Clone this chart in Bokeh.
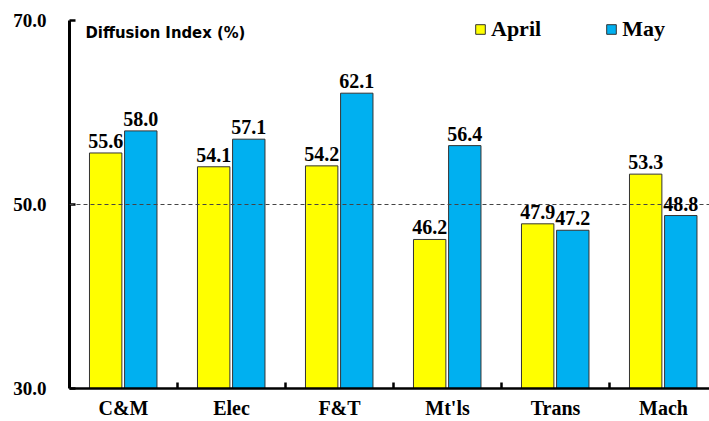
from bokeh.plotting import figure
from bokeh.models import (ColumnDataSource, Range1d, FixedTicker, Span, Label, LabelSet,
                          Legend, LegendItem, PrintfTickFormatter)
from bokeh.core.properties import value
from bokeh.embed import file_html
from bokeh.resources import INLINE

categories = ["C&M", "Elec", "F&T", "Mt'ls", "Trans", "Mach"]
april = [55.6, 54.1, 54.2, 46.2, 47.9, 53.3]
may = [58.0, 57.1, 62.1, 56.4, 47.2, 48.8]
y_ticks = [30, 50, 70]
threshold = 50.0
title_text = "Chart 2: Performance by Industry"
y_title = "Diffusion Index (%)"
series_names = ["April", "May"]

SERIF = "'Liberation Serif', 'Times New Roman', serif"
NARROW = "'Liberation Sans Narrow', 'Arial Narrow', 'DejaVu Sans Condensed', sans-serif"

FRAME_W = 640          # frame width in px
CAT_PX = 108           # px per category
X_END = FRAME_W / CAT_PX

idx = list(range(len(categories)))
src_a = ColumnDataSource(dict(x=[i + 0.335 for i in idx], top=april,
                              lab=["%.1f" % v for v in april]))
src_m = ColumnDataSource(dict(x=[i + 0.66 for i in idx], top=may,
                              lab=["%.1f" % v for v in may]))

p = figure(width=709, height=421, output_backend="svg", toolbar_location=None,
           x_range=Range1d(0, X_END), y_range=Range1d(30, 70),
           min_border_left=69, min_border_right=0, min_border_top=20, min_border_bottom=30)
p.outline_line_color = None
p.grid.visible = False
p.background_fill_color = "white"
p.border_fill_color = "white"

ra = p.vbar(x="x", top="top", bottom=30, width=0.3, source=src_a,
            fill_color="#FFFF00", line_color="#333333", line_width=1)
rm = p.vbar(x="x", top="top", bottom=30, width=0.3, source=src_m,
            fill_color="#00B0F0", line_color="#333333", line_width=1)

p.add_layout(Span(location=threshold, dimension="width", line_color="#444444",
                  line_width=1, line_dash="4 3"))

# y axis
ya = p.yaxis[0]
ya.ticker = FixedTicker(ticks=y_ticks)
ya.formatter = PrintfTickFormatter(format="%.1f")
ya.axis_line_width = 3
ya.axis_line_color = "black"
ya.major_tick_in = 6
ya.major_tick_out = 0
ya.major_tick_line_width = 2.5
ya.minor_tick_line_color = None
ya.major_label_standoff = 23
ya.major_label_text_font = SERIF
ya.major_label_text_font_style = "bold"
ya.major_label_text_font_size = "19px"
ya.major_label_text_color = "black"

# x axis: category names at centres, separator ticks between groups
centers = [i + 0.5 for i in idx]
xa = p.xaxis[0]
xa.ticker = FixedTicker(ticks=centers, minor_ticks=[i for i in idx[1:]])
xa.major_label_overrides = {c: name for c, name in zip(centers, categories)}
xa.axis_line_width = 2.5
xa.axis_line_color = "black"
xa.major_tick_line_color = None
xa.major_tick_in = 0
xa.major_tick_out = 0
xa.minor_tick_in = 6
xa.minor_tick_out = 0
xa.minor_tick_line_width = 2.5
xa.minor_tick_line_color = "black"
xa.major_label_standoff = 8
xa.major_label_text_font = SERIF
xa.major_label_text_font_style = "bold"
xa.major_label_text_font_size = "20px"
xa.major_label_text_color = "black"

# value labels
for s in (src_a, src_m):
    p.add_layout(LabelSet(x="x", y="top", text="lab", source=s, y_offset=5,
                          text_align="center", text_baseline="alphabetic",
                          text_font=value(SERIF), text_font_style="bold",
                          text_font_size="20px", text_color="black"))

# title (cropped at top in the reference)
p.add_layout(Label(x=81, y=385, x_units="screen", y_units="screen", text=title_text,
                   text_baseline="alphabetic", text_font=SERIF, text_font_style="bold",
                   text_font_size="27px", text_color="black"))

p.add_layout(Label(x=16, y=356, x_units="screen", y_units="screen", text=y_title,
                   text_baseline="alphabetic", text_font=NARROW, text_font_style="bold",
                   text_font_size="16.5px", text_color="black"))

legend = Legend(items=[LegendItem(label=series_names[0], renderers=[ra]),
                       LegendItem(label=series_names[1], renderers=[rm])],
                location=(405, 346), orientation="horizontal",
                glyph_width=12, glyph_height=12, label_standoff=5, spacing=64,
                padding=0, margin=0, border_line_color=None, background_fill_alpha=0,
                label_text_font=SERIF, label_text_font_style="bold",
                label_text_font_size="22px", label_text_color="black")
p.add_layout(legend)

open("out.html", "w").write(file_html(p, INLINE))
